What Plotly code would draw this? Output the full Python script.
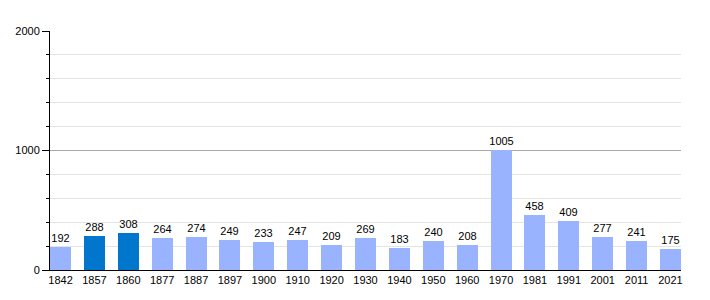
import plotly.graph_objects as go

years = ["1842", "1857", "1860", "1877", "1887", "1897", "1900", "1910", "1920", "1930",
         "1940", "1950", "1960", "1970", "1981", "1991", "2001", "2011", "2021"]
population = [192, 288, 308, 264, 274, 249, 233, 247, 209, 269,
              183, 240, 208, 1005, 458, 409, 277, 241, 175]
highlight = ["1857", "1860"]

LIGHT = "#99b3ff"
DARK = "#0077cc"
colors = [DARK if y in highlight else LIGHT for y in years]

fig = go.Figure(go.Bar(
    x=list(range(len(years))),
    y=population,
    marker=dict(color=colors, line=dict(width=0)),
    width=0.62,
    text=[str(v) for v in population],
    textposition="outside",
    constraintext="none",
    textfont=dict(size=11, color="black", family="Liberation Sans, Arial, sans-serif"),
    cliponaxis=False,
))

fig.update_layout(
    width=710, height=300,
    margin=dict(l=50, r=29, t=31, b=30),
    paper_bgcolor="white", plot_bgcolor="white",
    showlegend=False,
    bargap=0,
    uniformtext=dict(minsize=11, mode="show"),
    font=dict(family="Liberation Sans, Arial, sans-serif", size=11, color="black"),
    xaxis=dict(
        tickmode="array",
        tickvals=list(range(len(years))),
        ticktext=years,
        range=[-0.31, len(years) - 1 + 0.31],
        showgrid=False,
        showline=True, linecolor="black", linewidth=1,
        ticks="", ticklen=0,
        tickfont=dict(size=11, color="black"),
        fixedrange=True,
    ),
    yaxis=dict(
        range=[0, 2000],
        tickmode="linear", tick0=0, dtick=1000,
        showgrid=True, gridcolor="#aaaaaa", gridwidth=1,
        showline=True, linecolor="black", linewidth=1,
        ticks="outside", ticklen=7, tickcolor="black",
        tickfont=dict(size=11, color="black"),
        zeroline=False,
        minor=dict(dtick=200, tick0=0, showgrid=True, gridcolor="#e4e4e4",
                   ticks="outside", ticklen=3, tickcolor="black"),
        fixedrange=True,
    ),
)

fig.write_html("out.html")
